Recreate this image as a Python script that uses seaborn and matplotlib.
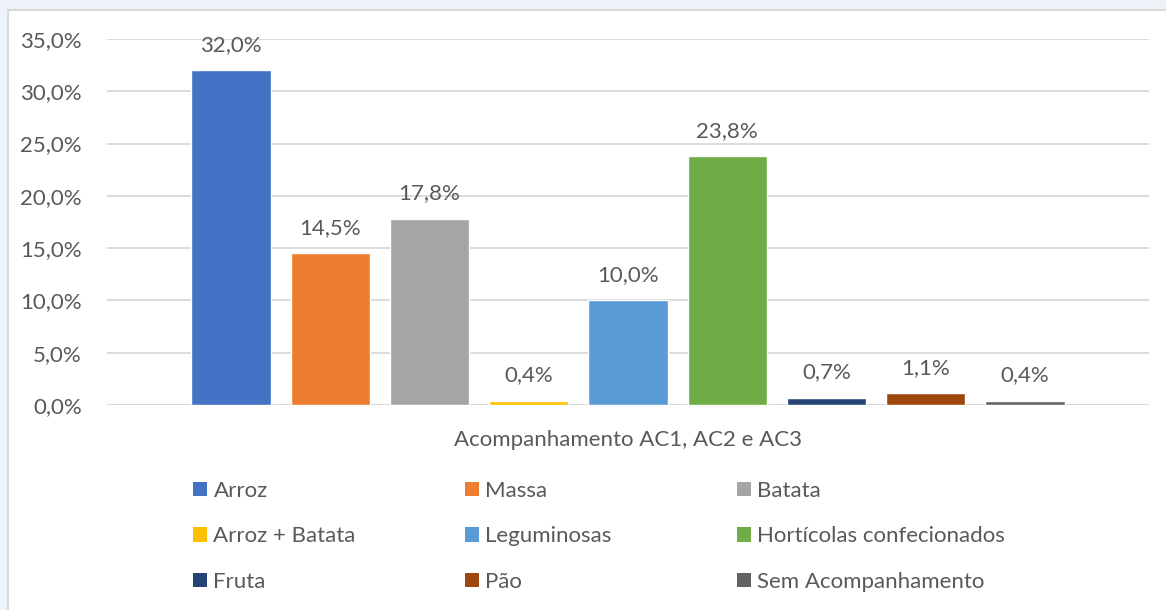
import matplotlib
matplotlib.use("Agg")
import matplotlib.pyplot as plt
from matplotlib.patches import Rectangle, Patch
import seaborn as sns
import pandas as pd

# data
CATEGORIES = [
    "Arroz", "Massa", "Batata",
    "Arroz + Batata", "Leguminosas", "Hortícolas confecionados",
    "Fruta", "Pão", "Sem Acompanhamento",
]
VALUES = [32.0, 14.5, 17.8, 0.4, 10.0, 23.8, 0.7, 1.1, 0.4]
GROUP = "Acompanhamento AC1, AC2 e AC3"
COLORS = [
    "#4472C4", "#ED7D31", "#A5A5A5",
    "#FFC000", "#5B9BD5", "#70AD47",
    "#264478", "#9E480E", "#636363",
]
Y_TICKS = [0, 5, 10, 15, 20, 25, 30, 35]

TEXT = "#595959"
GRID = "#D9D9D9"
FONT = "Lato"
FS = 16


def pt(v):
    return f"{v:.1f}%".replace(".", ",")


def main():
    sns.set_style("white")
    plt.rcParams["font.family"] = [FONT, "DejaVu Sans"]

    df = pd.DataFrame({"group": [GROUP] * len(VALUES),
                       "item": CATEGORIES,
                       "value": VALUES})

    fig = plt.figure(figsize=(11.66, 6.10), dpi=100, facecolor="#EEF3FA")
    W, H = 1166, 610
    # white chart frame
    fig.patches.append(Rectangle((8 / W, -0.01), 1.0, 1 - 10 / H + 0.01,
                                 transform=fig.transFigure, facecolor="white",
                                 edgecolor=GRID, linewidth=1.5, zorder=-10))

    ax = fig.add_axes([107 / W, 1 - 405 / H, (1149 - 107) / W, (405 - 39) / H])
    ax.set_facecolor("white")

    sns.barplot(data=df, x="group", y="value", hue="item", hue_order=CATEGORIES,
                palette=COLORS, width=0.857, gap=0.2, saturation=1,
                legend=False, ax=ax, zorder=3)

    for cont in ax.containers:
        ax.bar_label(cont, labels=[pt(b.get_height()) for b in cont],
                     padding=11, fontsize=FS, color=TEXT)

    ax.set_ylim(0, 35)
    ax.set_xlim(-0.5, 0.5)
    ax.set_yticks(Y_TICKS)
    ax.set_yticklabels([pt(v) for v in Y_TICKS])
    ax.yaxis.grid(True, color=GRID, linewidth=1.3, zorder=0)
    ax.set_axisbelow(True)
    for s in ax.spines.values():
        s.set_visible(False)
    ax.axhline(0, color=GRID, linewidth=1.5, zorder=2)
    ax.tick_params(axis="y", length=0, pad=18, labelsize=FS, labelcolor=TEXT)
    ax.tick_params(axis="x", length=0, pad=18, labelsize=FS, labelcolor=TEXT)
    ax.set_xlabel("")
    ax.set_ylabel("")

    # legend: three columns, row-wise order like the original
    col_x = [193, 465, 737]
    for c in range(3):
        idx = [c, c + 3, c + 6]
        handles = [Patch(facecolor=COLORS[i], edgecolor="none") for i in idx]
        fig.legend(handles, [CATEGORIES[i] for i in idx],
                   loc="upper left", bbox_to_anchor=(col_x[c] / W, 1 - 481 / H),
                   frameon=False, fontsize=FS, labelcolor=TEXT,
                   handlelength=0.62, handleheight=0.62, handletextpad=0.3,
                   labelspacing=1.14, borderpad=0, borderaxespad=0)

    fig.savefig("out.png", dpi=100, facecolor=fig.get_facecolor())


if __name__ == "__main__":
    main()
